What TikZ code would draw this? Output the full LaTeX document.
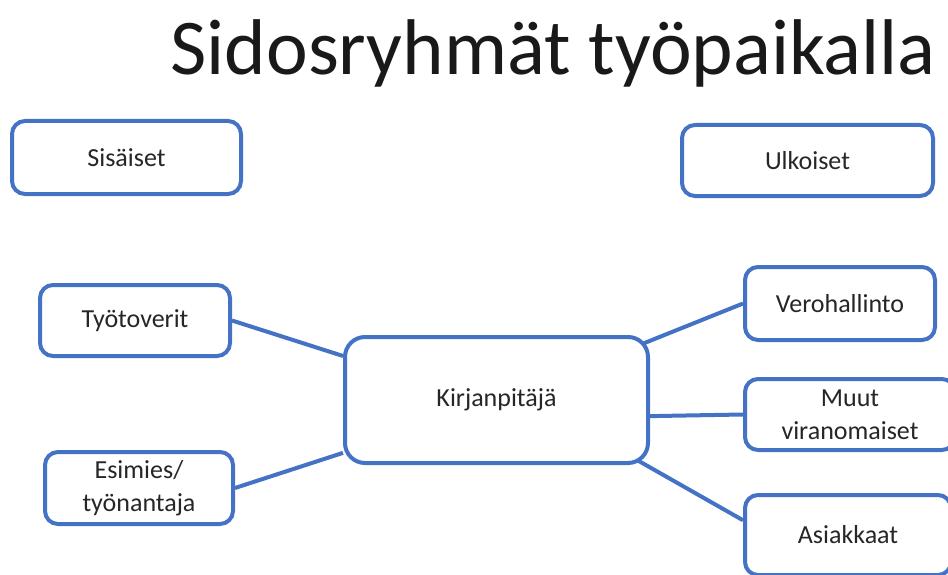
\documentclass[tikz,border=0pt]{standalone}
\usepackage{fontspec}
\setmainfont{Carlito}
\usepackage{xcolor}
\usepackage{tikz}
\usetikzlibrary{shapes, positioning, calc, backgrounds}
\definecolor{accent}{HTML}{4472C4}
\definecolor{ink}{HTML}{262626}

\begin{document}
\begin{tikzpicture}
  [
    x=1pt, y=-1pt,
    Box/.style={rectangle, rounded corners=13pt, draw=accent, fill=white, line width=4pt,
      inner sep=0pt, align=center, text=ink, font=\fontsize{26}{33}\selectfont},
    Link/.style={draw=accent, line width=4pt}
  ]
  \useasboundingbox (0,0) rectangle (948,575);
  % Title
  \node[anchor=base east, text=black!90, inner sep=0pt, font=\fontsize{79}{90}\selectfont]
    (title) at (936, 75) {Sidosryhmät työpaikalla};
  % Nodes
  \node[Box, minimum width=229, minimum height=73] (sis) at (126.5, 157.5) {Sisäiset};
  \node[Box, minimum width=251, minimum height=71] (ulk) at (807.5, 160.5) {Ulkoiset};
  \node[Box, minimum width=190, minimum height=71] (tyo) at (135, 320.5) {Työtoverit};
  \node[Box, minimum width=188, minimum height=72] (esi) at (139, 488) {Esimies/\\työnantaja};
  \node[Box, rounded corners=20pt, minimum width=303, minimum height=126] (kir) at (496.5, 400) {Kirjanpitäjä};
  \node[Box, minimum width=190, minimum height=73] (ver) at (840, 303.5) {Verohallinto};
  \node[Box, minimum width=210, minimum height=71] (muu) at (850, 414.5) {Muut\\viranomaiset};
  \node[Box, minimum width=206, minimum height=80] (asi) at (848, 535) {Asiakkaat};
  % Lines
  \begin{pgfonlayer}{background}
    \path [Link] (tyo.east) -- (kir.164);
    \path [Link] (esi.east) -- (kir.199);
    \path [Link] ($(kir.center)!0.9!(kir.21)$) -- (ver.west);
    \path [Link] (kir.-6) -- (muu.west);
    \path [Link] ($(kir.center)!0.9!(kir.-23)$) -- (asi.172);
  \end{pgfonlayer}
\end{tikzpicture}
\end{document}
